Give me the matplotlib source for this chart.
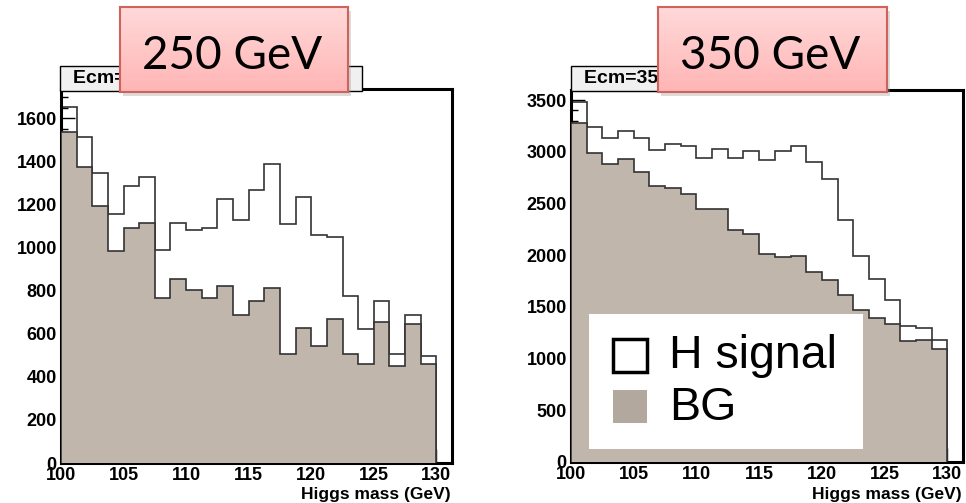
import numpy as np
import matplotlib
matplotlib.use('Agg')
import matplotlib.pyplot as plt
from matplotlib.patches import Rectangle

W, H = 966, 503

bin_edges = np.linspace(100, 130, 25)
x_ticks = [100, 105, 110, 115, 120, 125, 130]

# Ecm = 250 GeV
bg_250 = [1535, 1374, 1195, 984, 1091, 1116, 764, 854, 803, 764, 823, 685,
          753, 811, 507, 628, 543, 670, 507, 459, 656, 448, 647, 459]
tot_250 = [1654, 1512, 1344, 1158, 1285, 1326, 991, 1112, 1081, 1093, 1226, 1129,
           1267, 1386, 1110, 1233, 1059, 1051, 777, 623, 753, 507, 687, 498]

# Ecm = 350 GeV
bg_350 = [3274, 2984, 2877, 2926, 2800, 2668, 2652, 2590, 2442, 2442, 2242, 2200,
          2010, 1984, 1994, 1839, 1758, 1613, 1474, 1397, 1339, 1171, 1184, 1097]
tot_350 = [3484, 3235, 3135, 3200, 3135, 3016, 3074, 3055, 2939, 3023, 2939, 3010,
           2919, 3010, 3055, 2900, 2732, 2339, 1990, 1768, 1571, 1316, 1297, 1184]

bg_color = '#c1b6ab'
line_color = '#333333'
bold = dict(family='Liberation Sans', weight='bold')


def fig_rect(x0, y0, x1, y1):
    # pixel box (top-left origin) -> figure fraction [left, bottom, width, height]
    return [x0 / W, 1 - y1 / H, (x1 - x0) / W, (y1 - y0) / H]


def draw_panel(fig, rect, bg, tot, ymax, ymaj, ymin):
    ax = fig.add_axes(rect)
    ax.stairs(tot, bin_edges, color=line_color, lw=1.2, zorder=2)
    ax.stairs(bg, bin_edges, fill=True, facecolor=bg_color, edgecolor=line_color,
              lw=1.2, zorder=3)
    ax.set_xlim(100, 131.25)
    ax.set_ylim(0, ymax)
    ax.set_axisbelow(True)
    ax.set_xticks(x_ticks)
    ax.set_xticks(np.arange(100, 131, 1), minor=True)
    ax.set_yticks(np.arange(0, ymax, ymaj))
    ax.set_yticks(np.arange(0, ymax, ymin), minor=True)
    ax.tick_params(which='major', direction='in', length=10, width=1, pad=3)
    ax.tick_params(which='minor', direction='in', length=5, width=1)
    for lab in ax.get_xticklabels() + ax.get_yticklabels():
        lab.set_fontfamily('Liberation Sans')
        lab.set_fontweight('bold')
        lab.set_fontsize(13)
    for sp in ax.spines.values():
        sp.set_linewidth(2.2)
    return ax


def title_boxes(fig, ecm_box, ecm_text, pink_box, label):
    # grey ROOT title box, mostly hidden
    x0, y0, x1, y1 = ecm_box
    fig.patches.append(Rectangle((x0 / W, 1 - y1 / H), (x1 - x0) / W, (y1 - y0) / H,
                                 transform=fig.transFigure, facecolor='#f0f0f0',
                                 edgecolor='black', lw=1, zorder=3))
    fig.text((x0 + 13) / W, 1 - (y0 + y1) / 2 / H, ecm_text, fontsize=14,
             ha='left', va='center', zorder=3.5, **bold)
    # shadow of the pink box
    px0, py0, px1, py1 = pink_box
    fig.patches.append(Rectangle(((px0 + 3) / W, 1 - (py1 + 4) / H), (px1 - px0) / W,
                                 (py1 - py0) / H, transform=fig.transFigure,
                                 facecolor='#999999', alpha=0.35, lw=0, zorder=4))
    bx = fig.add_axes(fig_rect(*pink_box), zorder=5)
    grad = np.linspace(0, 1, 64)[:, None, None]
    top = np.array([1.0, 0.85, 0.85])
    bot = np.array([1.0, 0.71, 0.71])
    bx.imshow(top + (bot - top) * grad, aspect='auto', extent=[0, 1, 0, 1])
    bx.set_xlim(0, 1)
    bx.set_ylim(0, 1)
    bx.set_xticks([])
    bx.set_yticks([])
    for sp in bx.spines.values():
        sp.set_color('#d0625c')
        sp.set_linewidth(1.5)
    bx.text(0.49, 0.42, label, family='Lato', fontsize=33, ha='center', va='center')


fig = plt.figure(figsize=(W / 100, H / 100), dpi=100)

draw_panel(fig, fig_rect(61, 89, 452, 463), bg_250, tot_250, 1736, 200, 50)
draw_panel(fig, fig_rect(571, 90, 963, 462), bg_350, tot_350, 3597, 500, 100)

for x_right in (451, 962):
    fig.text(x_right / W, 1 - 495 / H, 'Higgs mass (GeV)', fontsize=12.5,
             ha='right', va='center', **bold)

title_boxes(fig, (60, 66, 362, 91), 'Ecm=250 GeV', (120, 7, 348, 92), '250 GeV')
title_boxes(fig, (571, 66, 860, 91), 'Ecm=350 GeV', (658, 7, 887, 92), '350 GeV')

# legend drawn as a plain white panel
lx0, ly0, lx1, ly1 = 589, 314, 863, 449
fig.patches.append(Rectangle((lx0 / W, 1 - ly1 / H), (lx1 - lx0) / W, (ly1 - ly0) / H,
                             transform=fig.transFigure, facecolor='white', lw=0, zorder=4))
fig.patches.append(Rectangle((613 / W, 1 - 372 / H), 34 / W, 33 / H,
                             transform=fig.transFigure, facecolor='white',
                             edgecolor='black', lw=2.5, zorder=5))
fig.patches.append(Rectangle((613 / W, 1 - 423 / H), 34 / W, 33 / H,
                             transform=fig.transFigure, facecolor='#b3a89d',
                             lw=0, zorder=5))
fig.text(669 / W, 1 - 356 / H, 'H signal', family='Liberation Sans', fontsize=33.5,
         ha='left', va='center', zorder=6)
fig.text(669 / W, 1 - 408 / H, 'BG', family='Liberation Sans', fontsize=33.5,
         ha='left', va='center', zorder=6)

fig.savefig('out.png', dpi=100)
